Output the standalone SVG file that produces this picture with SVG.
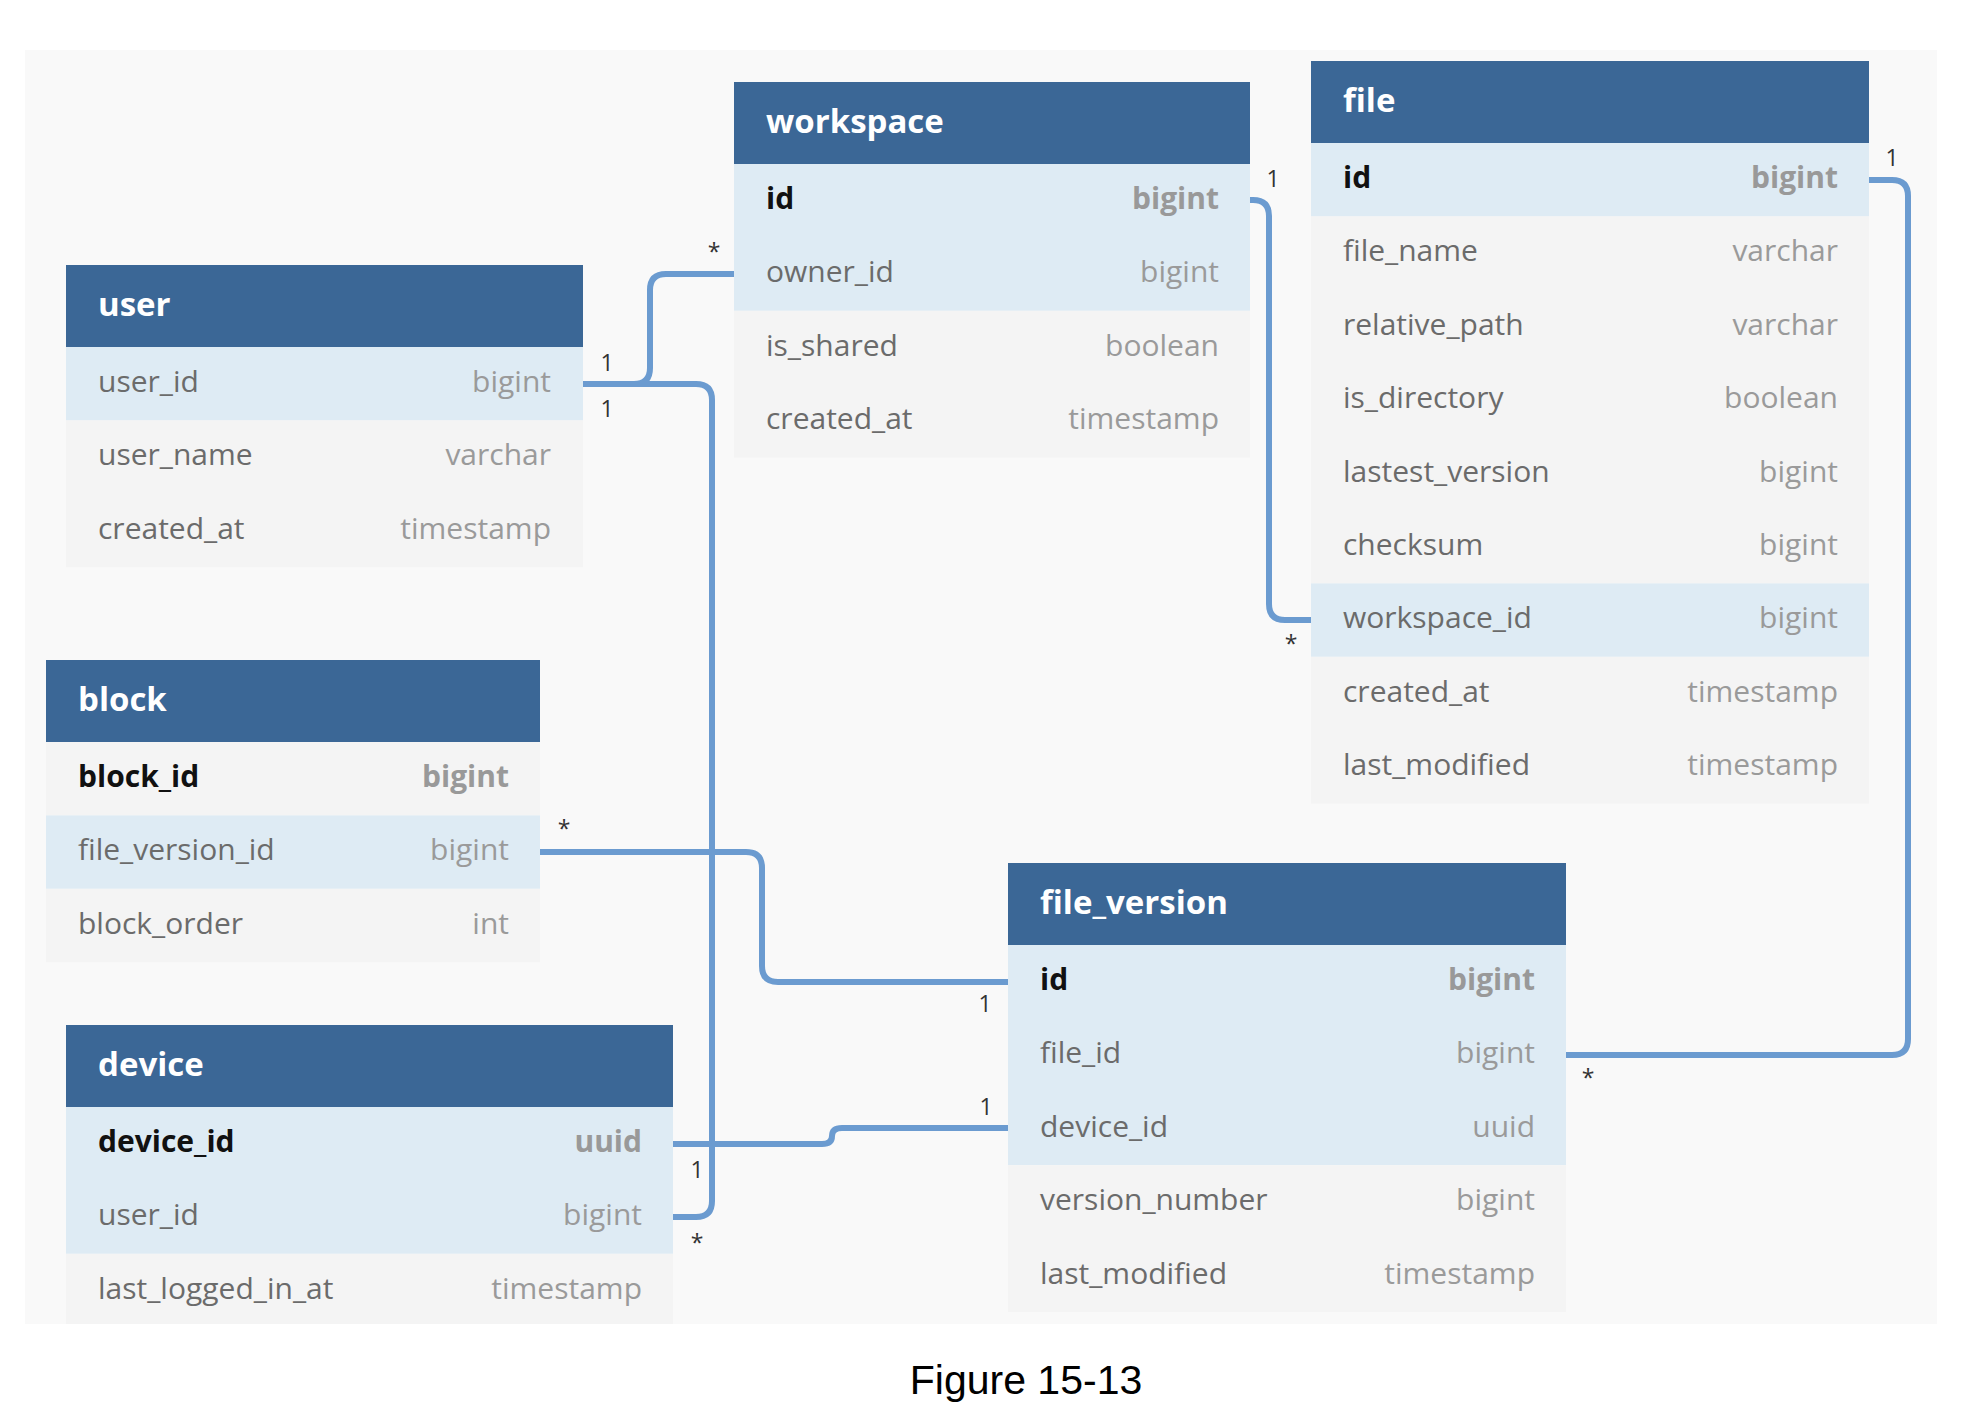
<svg xmlns="http://www.w3.org/2000/svg" width="1982" height="1420" viewBox="0 0 1982 1420">
<style>
.hd{fill:#3b6796}
.hl{fill:#deebf4}
.nr{fill:#f4f4f4}
.ht{font-family:"Open Sans","Noto Sans",sans-serif;font-weight:bold;font-size:33px;fill:#ffffff}
.fn{font-family:"Open Sans","Noto Sans",sans-serif;font-size:30px;fill:#6b6b6b}
.ft{font-family:"Open Sans","Noto Sans",sans-serif;font-size:30px;fill:#9a9a9a;text-anchor:end}
.pk{font-weight:bold;fill:#111111}
.pt{font-weight:bold;fill:#999999}
.cn{fill:none;stroke:#6b9bd0;stroke-width:6}
.lb{font-family:"Open Sans","Noto Sans",sans-serif;font-size:23px;fill:#333333;text-anchor:middle}
.cap{font-family:"Liberation Sans",Arial,sans-serif;font-size:41px;fill:#000000;text-anchor:middle}
</style>
<rect x="0" y="0" width="1982" height="1420" fill="#ffffff"/>
<rect x="25" y="50" width="1912" height="1274" fill="#f9f9f9"/>

<g id="connectors">
<path class="cn" d="M583,384 H634 Q650,384 650,368 V290 Q650,274 666,274 H734"/>
<path class="cn" d="M583,384 H696 Q712,384 712,400 V1201 Q712,1217 696,1217 H673"/>
<path class="cn" d="M673,1144 H822 Q832,1144 832,1136 Q832,1128 842,1128 H1008"/>
<path class="cn" d="M540,852 H746 Q762,852 762,868 V966 Q762,982 778,982 H1008"/>
<path class="cn" d="M1250,200 H1253 Q1269,200 1269,216 V604 Q1269,620 1285,620 H1311"/>
<path class="cn" d="M1869,180 H1892 Q1908,180 1908,196 V1039 Q1908,1055 1892,1055 H1566"/>
<text class="lb" x="607" y="371">1</text>
<text class="lb" x="607" y="417">1</text>
<text class="lb" x="714" y="260">*</text>
<text class="lb" x="1273" y="187">1</text>
<text class="lb" x="1291" y="652">*</text>
<text class="lb" x="1892" y="166">1</text>
<text class="lb" x="1588" y="1086">*</text>
<text class="lb" x="564" y="837">*</text>
<text class="lb" x="985" y="1012">1</text>
<text class="lb" x="986" y="1115">1</text>
<text class="lb" x="697" y="1178">1</text>
<text class="lb" x="697" y="1251">*</text>
</g>

<g id="workspace">
<rect class="hd" x="734" y="82" width="516" height="82"/>
<rect class="hl" x="734" y="164" width="516" height="146.8"/>
<rect class="nr" x="734" y="310.8" width="516" height="146.8"/>
<text class="ht" x="766" y="133">workspace</text>
<text class="fn pk" x="766" y="209">id</text><text class="ft pt" x="1219" y="209">bigint</text>
<text class="fn" x="766" y="282">owner_id</text><text class="ft" x="1219" y="282">bigint</text>
<text class="fn" x="766" y="356">is_shared</text><text class="ft" x="1219" y="356">boolean</text>
<text class="fn" x="766" y="429">created_at</text><text class="ft" x="1219" y="429">timestamp</text>
</g>

<g id="file">
<rect class="hd" x="1311" y="61" width="558" height="82"/>
<rect class="hl" x="1311" y="143" width="558" height="73.4"/>
<rect class="nr" x="1311" y="216.4" width="558" height="367"/>
<rect class="hl" x="1311" y="583.4" width="558" height="73.4"/>
<rect class="nr" x="1311" y="656.8" width="558" height="146.8"/>
<text class="ht" x="1343" y="112">file</text>
<text class="fn pk" x="1343" y="188">id</text><text class="ft pt" x="1838" y="188">bigint</text>
<text class="fn" x="1343" y="261">file_name</text><text class="ft" x="1838" y="261">varchar</text>
<text class="fn" x="1343" y="335">relative_path</text><text class="ft" x="1838" y="335">varchar</text>
<text class="fn" x="1343" y="408">is_directory</text><text class="ft" x="1838" y="408">boolean</text>
<text class="fn" x="1343" y="482">lastest_version</text><text class="ft" x="1838" y="482">bigint</text>
<text class="fn" x="1343" y="555">checksum</text><text class="ft" x="1838" y="555">bigint</text>
<text class="fn" x="1343" y="628">workspace_id</text><text class="ft" x="1838" y="628">bigint</text>
<text class="fn" x="1343" y="702">created_at</text><text class="ft" x="1838" y="702">timestamp</text>
<text class="fn" x="1343" y="775">last_modified</text><text class="ft" x="1838" y="775">timestamp</text>
</g>

<g id="user">
<rect class="hd" x="66" y="265" width="517" height="82"/>
<rect class="hl" x="66" y="347" width="517" height="73.4"/>
<rect class="nr" x="66" y="420.4" width="517" height="146.8"/>
<text class="ht" x="98" y="316">user</text>
<text class="fn" x="98" y="392">user_id</text><text class="ft" x="551" y="392">bigint</text>
<text class="fn" x="98" y="465">user_name</text><text class="ft" x="551" y="465">varchar</text>
<text class="fn" x="98" y="539">created_at</text><text class="ft" x="551" y="539">timestamp</text>
</g>

<g id="block">
<rect class="hd" x="46" y="660" width="494" height="82"/>
<rect class="nr" x="46" y="742" width="494" height="73.4"/>
<rect class="hl" x="46" y="815.4" width="494" height="73.4"/>
<rect class="nr" x="46" y="888.8" width="494" height="73.4"/>
<text class="ht" x="78" y="711">block</text>
<text class="fn pk" x="78" y="787">block_id</text><text class="ft pt" x="509" y="787">bigint</text>
<text class="fn" x="78" y="860">file_version_id</text><text class="ft" x="509" y="860">bigint</text>
<text class="fn" x="78" y="934">block_order</text><text class="ft" x="509" y="934">int</text>
</g>

<g id="device">
<rect class="hd" x="66" y="1025" width="607" height="82"/>
<rect class="hl" x="66" y="1107" width="607" height="146.8"/>
<rect class="nr" x="66" y="1253.8" width="607" height="70.2"/>
<text class="ht" x="98" y="1076">device</text>
<text class="fn pk" x="98" y="1152">device_id</text><text class="ft pt" x="642" y="1152">uuid</text>
<text class="fn" x="98" y="1225">user_id</text><text class="ft" x="642" y="1225">bigint</text>
<text class="fn" x="98" y="1299">last_logged_in_at</text><text class="ft" x="642" y="1299">timestamp</text>
</g>

<g id="file_version">
<rect class="hd" x="1008" y="863" width="558" height="82"/>
<rect class="hl" x="1008" y="945" width="558" height="220.2"/>
<rect class="nr" x="1008" y="1165.2" width="558" height="146.8"/>
<text class="ht" x="1040" y="914">file_version</text>
<text class="fn pk" x="1040" y="990">id</text><text class="ft pt" x="1535" y="990">bigint</text>
<text class="fn" x="1040" y="1063">file_id</text><text class="ft" x="1535" y="1063">bigint</text>
<text class="fn" x="1040" y="1137">device_id</text><text class="ft" x="1535" y="1137">uuid</text>
<text class="fn" x="1040" y="1210">version_number</text><text class="ft" x="1535" y="1210">bigint</text>
<text class="fn" x="1040" y="1284">last_modified</text><text class="ft" x="1535" y="1284">timestamp</text>
</g>

<text class="cap" x="1026" y="1394">Figure 15-13</text>
</svg>
